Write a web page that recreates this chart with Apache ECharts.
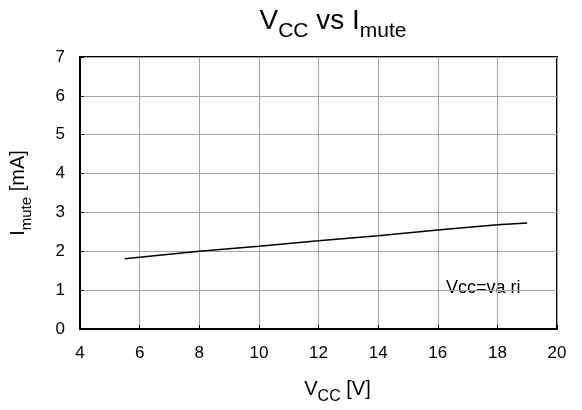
<!DOCTYPE html>
<html>
<head>
<meta charset="utf-8">
<script src="https://cdn.jsdelivr.net/npm/echarts@6/dist/echarts.min.js"></script>
<style>
    html, body { margin: 0; padding: 0; background: #fff; }
    #chart { width: 582px; height: 410px; }
</style>
</head>
<body>
<div id="chart"></div>
<script>
// Vcc [V]
var vcc = [5.5, 8, 10, 12, 14, 16, 18, 19];
// Imute [mA]
var imute = [1.81, 2.0, 2.13, 2.27, 2.4, 2.55, 2.68, 2.73];
var xTicks = [4, 6, 8, 10, 12, 14, 16, 18, 20];
var yTicks = [0, 1, 2, 3, 4, 5, 6, 7];

var font = 'Liberation Sans';
var myChart = echarts.init(document.getElementById('chart'));

// normal text + subscript, subscript pushed down by padding under the normal part
function subRich(big, small, drop) {
    return {
        n: { fontFamily: font, fontSize: big, fontWeight: 'normal', color: '#000', verticalAlign: 'bottom', lineHeight: big + 4, padding: [0, 0, drop, 0] },
        s: { fontFamily: font, fontSize: small, fontWeight: 'normal', color: '#000', verticalAlign: 'bottom', lineHeight: big + 4 }
    };
}

var option = {
    backgroundColor: '#fff',
    animation: false,
    title: {
        text: '{n|V}{s|CC}{n| vs I}{s|mute}',
        left: 328,
        top: 5,
        textAlign: 'center',
        textStyle: {
            fontFamily: font,
            fontSize: 28,
            fontWeight: 'normal',
            color: '#000',
            rich: subRich(28, 21, 7)
        }
    },
    grid: {
        left: 80,
        right: 25,
        top: 57,
        bottom: 80,
        show: true,
        borderColor: '#000',
        borderWidth: 2
    },
    xAxis: {
        type: 'value',
        min: xTicks[0],
        max: xTicks[xTicks.length - 1],
        interval: 2,
        name: '{n|V}{s|CC}{n| [V]}',
        nameLocation: 'middle',
        nameGap: 52,
        nameTextStyle: {
            fontFamily: font,
            fontSize: 20,
            color: '#000',
            padding: [0, 0, 0, 38],
            rich: subRich(20, 16, 6)
        },
        axisLine: { lineStyle: { color: '#000', width: 2 } },
        axisTick: { inside: true, length: 4, lineStyle: { color: '#000' } },
        axisLabel: { fontFamily: font, fontSize: 17, color: '#000', margin: 16 },
        splitLine: { lineStyle: { color: '#a6a6a6', width: 1 } }
    },
    yAxis: {
        type: 'value',
        min: yTicks[0],
        max: yTicks[yTicks.length - 1],
        interval: 1,
        name: '{n|I}{s|mute}{n| [mA]}',
        nameLocation: 'middle',
        nameGap: 46,
        nameRotate: 90,
        nameTextStyle: {
            fontFamily: font,
            fontSize: 20,
            color: '#000',
            rich: subRich(20, 15, 6)
        },
        axisLine: { lineStyle: { color: '#000', width: 2 } },
        axisTick: { inside: true, length: 4, lineStyle: { color: '#000' } },
        axisLabel: { fontFamily: font, fontSize: 17, color: '#000', margin: 15 },
        splitLine: { lineStyle: { color: '#a6a6a6', width: 1 } }
    },
    graphic: [{
        type: 'text',
        left: 446,
        top: 279,
        style: {
            text: 'Vcc=va ri',
            font: '18px ' + font,
            fill: '#000'
        }
    }],
    series: [{
        type: 'line',
        data: vcc.map(function(v, i) {
            return [v, imute[i]];
        }),
        showSymbol: false,
        lineStyle: { color: '#000', width: 1.5 },
        z: 5
    }]
};
myChart.setOption(option);
</script>
</body>
</html>
